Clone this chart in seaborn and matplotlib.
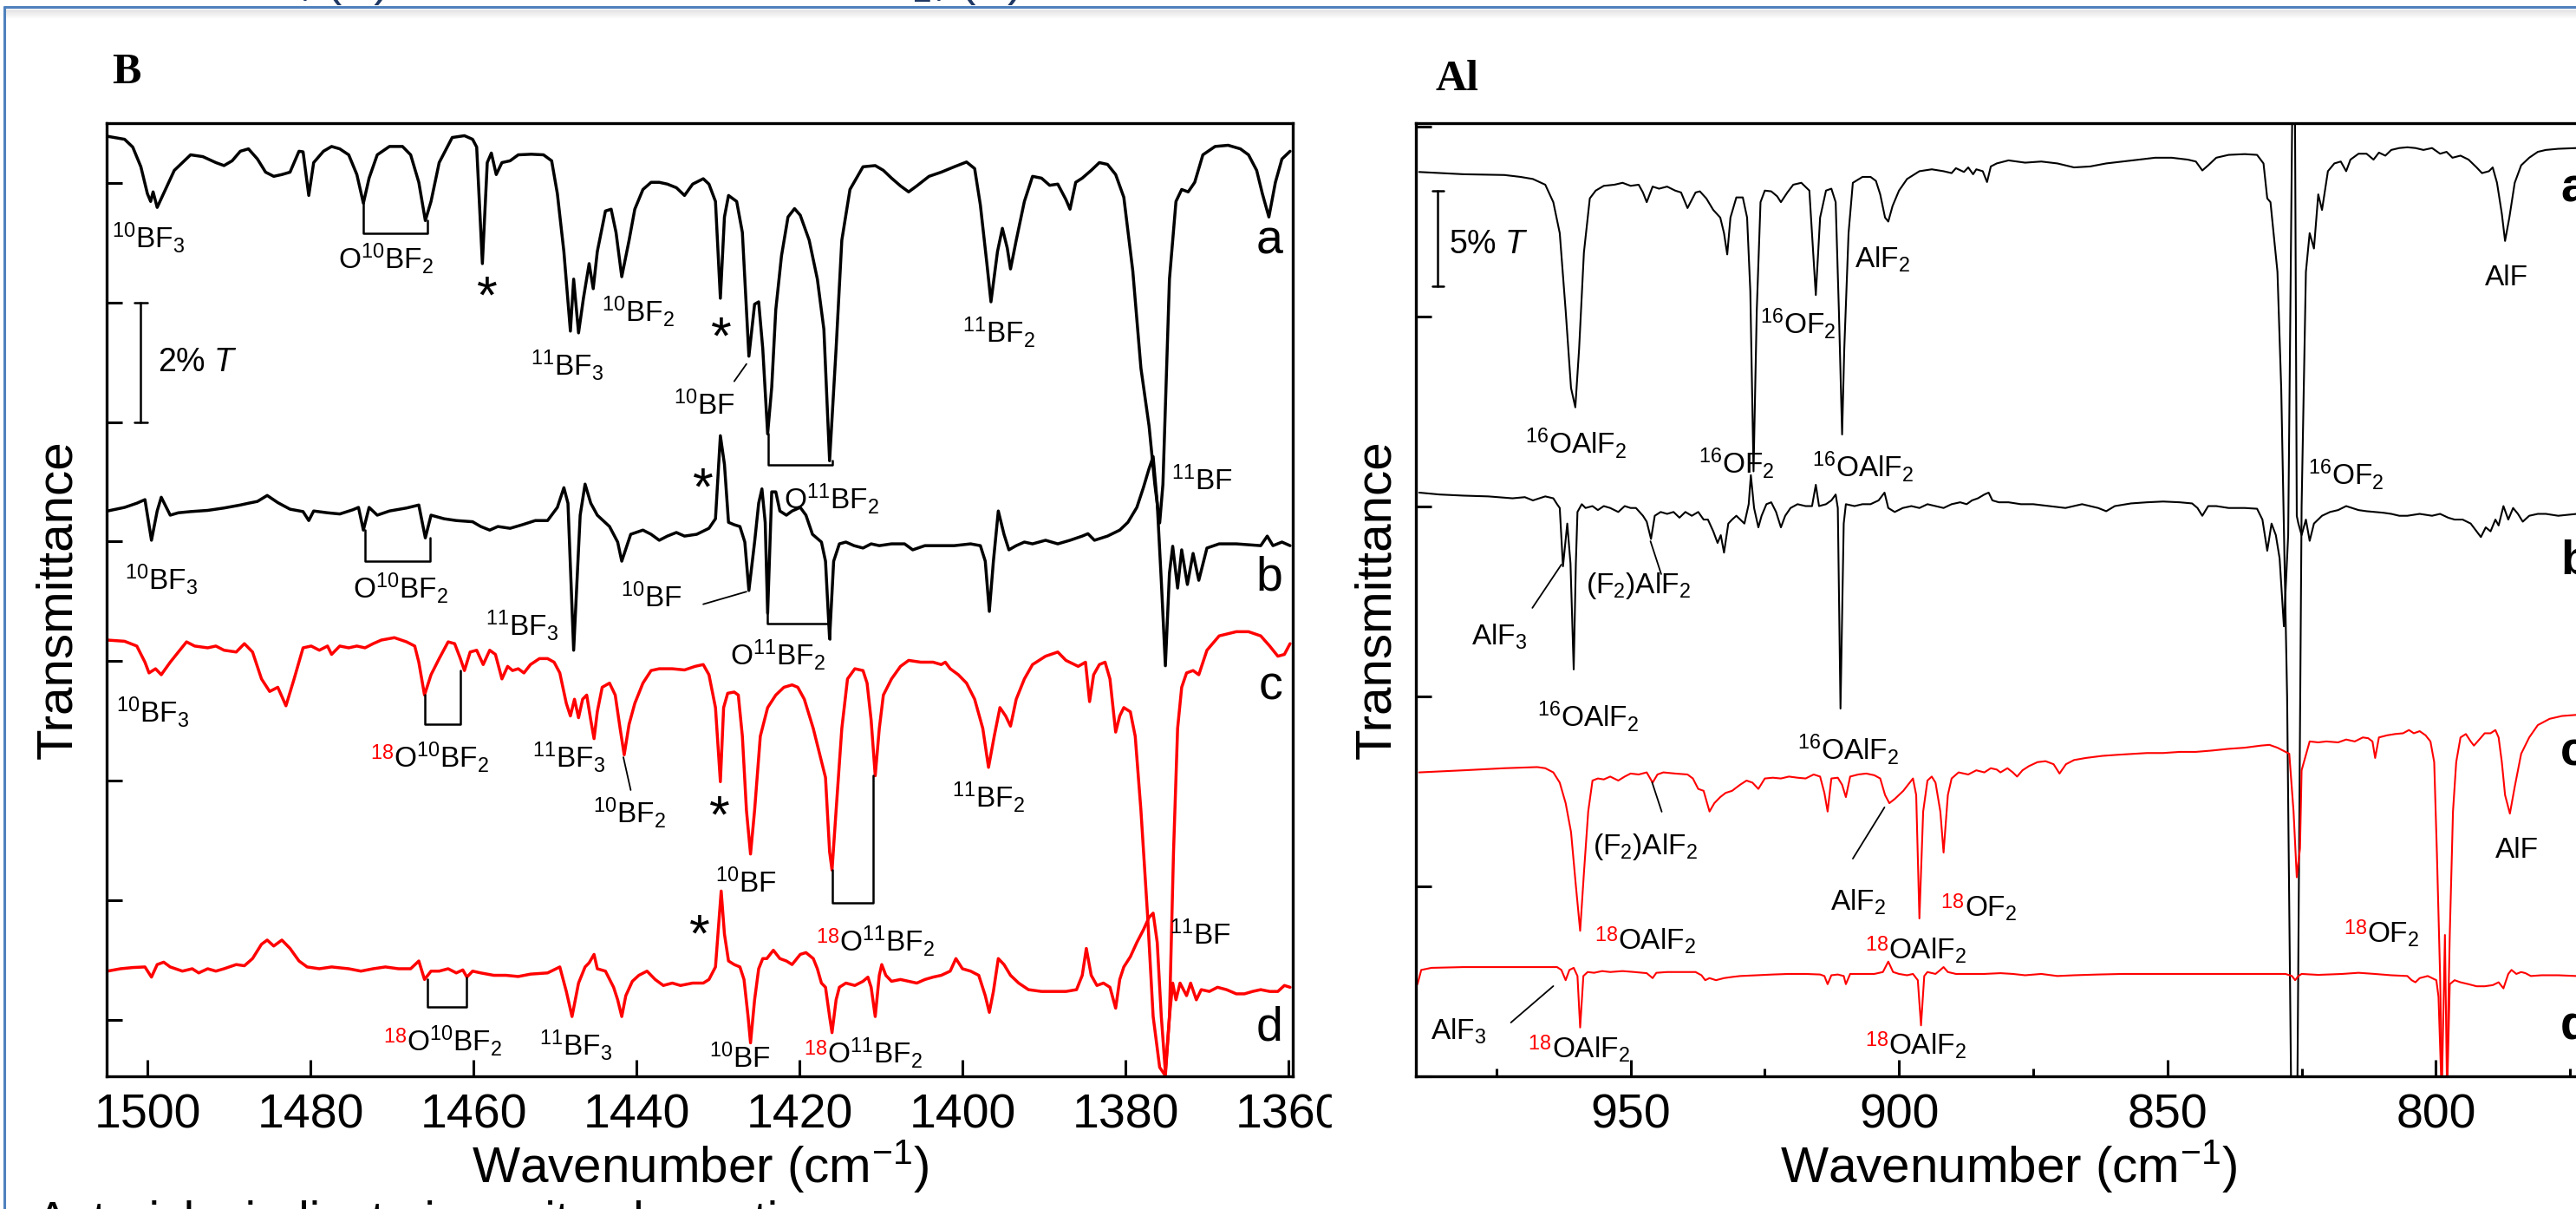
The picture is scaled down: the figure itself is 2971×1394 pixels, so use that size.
import matplotlib
matplotlib.use("Agg")
import matplotlib.pyplot as plt
import seaborn as sns
import pandas as pd
from matplotlib.patches import Rectangle
from matplotlib.lines import Line2D

# ---------------- Panel B (boron) : wavenumber (cm-1) / offset transmittance (% T)
b_wn_a = [1504.9, 1502.8, 1501.8, 1500.8, 1500.0, 1499.6, 1499.3, 1498.8, 1496.7, 1494.7,
          1493.2, 1491.6, 1490.6, 1489.6, 1488.6, 1487.6, 1486.5, 1485.5, 1484.5, 1483.5,
          1482.5, 1481.4, 1480.9, 1480.2, 1479.6, 1478.4, 1477.4, 1476.4, 1475.3, 1474.3,
          1473.5, 1472.8, 1471.8, 1470.3, 1468.7, 1467.7, 1466.7, 1465.9, 1465.2, 1464.2,
          1462.6, 1461.1, 1460.1, 1459.6, 1458.9, 1458.3, 1457.8, 1457.2, 1456.5, 1455.5,
          1454.5, 1452.9, 1451.4, 1450.4, 1449.7, 1448.9, 1448.1, 1447.7, 1447.1, 1446.5,
          1445.8, 1445.3, 1444.8, 1443.8, 1443.1, 1442.5, 1441.8, 1440.9, 1440.2, 1439.2,
          1438.2, 1437.2, 1436.2, 1435.1, 1434.1, 1433.1, 1431.8, 1431.1, 1430.3, 1429.7,
          1429.2, 1428.7, 1427.7, 1427.0, 1426.2, 1425.5, 1425.0, 1424.5, 1423.9, 1423.4,
          1422.9, 1422.2, 1421.4, 1420.6, 1419.9, 1418.8, 1417.8, 1417.0, 1416.3, 1415.5,
          1414.8, 1413.8, 1412.2, 1410.7, 1409.7, 1408.7, 1407.6, 1406.6, 1405.6, 1404.1,
          1402.6, 1401.0, 1399.5, 1398.5, 1397.8, 1397.0, 1396.5, 1395.7, 1395.1, 1394.5,
          1394.1, 1393.4, 1392.4, 1391.4, 1390.3, 1389.3, 1388.3, 1387.3, 1386.8, 1386.1,
          1385.3, 1384.2, 1383.2, 1382.2, 1381.2, 1380.2, 1379.1, 1378.1, 1377.1, 1376.4,
          1375.8, 1375.4, 1374.6, 1373.8, 1373.1, 1372.3, 1371.5, 1370.5, 1369.0, 1367.4,
          1365.9, 1364.9, 1363.9, 1363.2, 1362.4, 1361.6, 1360.8, 1359.8]
b_t_a = [14.78, 14.73, 14.60, 14.27, 13.82, 13.69, 13.85, 13.59, 14.21, 14.47,
         14.44, 14.34, 14.29, 14.37, 14.53, 14.57, 14.40, 14.18, 14.11, 14.14,
         14.18, 14.53, 14.52, 13.79, 14.34, 14.53, 14.61, 14.57, 14.47, 14.14,
         13.66, 14.08, 14.47, 14.61, 14.61, 14.47, 14.01, 13.37, 13.69, 14.34,
         14.76, 14.79, 14.73, 14.60, 12.65, 14.34, 14.50, 14.14, 14.34, 14.37,
         14.47, 14.48, 14.47, 14.37, 13.82, 12.85, 11.52, 12.39, 11.49, 12.07,
         12.65, 12.23, 12.85, 13.53, 13.56, 13.17, 12.43, 13.04, 13.56, 13.89,
         14.01, 14.01, 13.98, 13.92, 13.79, 13.98, 14.07, 13.98, 13.69, 12.07,
         13.43, 13.79, 13.69, 13.17, 11.10, 11.97, 12.01, 11.23, 9.80, 10.58,
         11.88, 12.78, 13.43, 13.57, 13.46, 13.04, 12.39, 11.55, 9.35, 11.23,
         13.04, 13.89, 14.27, 14.29, 14.21, 14.08, 13.95, 13.85, 13.95, 14.11,
         14.18, 14.27, 14.35, 14.24, 13.63, 12.65, 12.01, 12.85, 13.24, 12.91,
         12.56, 13.04, 13.69, 14.11, 14.08, 13.96, 13.98, 13.72, 13.56, 14.01,
         14.08, 14.21, 14.34, 14.31, 14.14, 13.76, 12.53, 10.90, 9.93, 8.96,
         8.31, 8.96, 12.39, 13.69, 13.89, 13.85, 14.01, 14.47, 14.61, 14.63,
         14.57, 14.47, 14.21, 13.82, 13.43, 14.01, 14.40, 14.53]

b_wn_b = [1504.9, 1502.8, 1501.3, 1500.3, 1499.5, 1498.8, 1498.3, 1497.2, 1496.2, 1494.7,
          1492.6, 1490.6, 1488.6, 1487.6, 1486.5, 1485.3, 1484.0, 1482.5, 1480.9, 1480.2,
          1479.6, 1477.9, 1476.4, 1474.8, 1474.1, 1473.5, 1472.8, 1471.8, 1470.3, 1468.2,
          1466.7, 1465.9, 1465.2, 1463.6, 1462.1, 1460.1, 1459.1, 1458.0, 1457.0, 1455.5,
          1454.0, 1452.4, 1450.9, 1449.7, 1448.9, 1448.4, 1447.7, 1446.9, 1446.3, 1445.6,
          1444.8, 1443.3, 1442.3, 1441.8, 1440.7, 1439.2, 1438.2, 1437.2, 1436.2, 1435.1,
          1434.1, 1432.6, 1431.1, 1430.3, 1429.9, 1429.7, 1429.2, 1428.7, 1428.0, 1427.3,
          1426.7, 1426.2, 1425.5, 1425.0, 1424.6, 1424.2, 1423.9, 1423.4, 1422.9, 1422.4,
          1421.6, 1420.9, 1419.9, 1419.2, 1418.4, 1417.3, 1416.8, 1416.3, 1415.8, 1415.1,
          1414.3, 1413.3, 1412.2, 1411.2, 1410.2, 1408.7, 1407.1, 1406.1, 1404.6, 1403.1,
          1401.0, 1399.0, 1397.8, 1397.2, 1396.7, 1396.2, 1395.6, 1394.9, 1394.3, 1393.4,
          1392.4, 1391.4, 1389.8, 1388.3, 1386.8, 1385.3, 1384.6, 1383.8, 1382.2, 1380.7,
          1379.7, 1378.6, 1377.8, 1377.1, 1376.6, 1376.1, 1375.6, 1375.1, 1374.6, 1374.2,
          1373.6, 1373.1, 1372.4, 1371.7, 1371.0, 1370.0, 1368.5, 1366.4, 1364.4, 1363.4,
          1362.6, 1361.9, 1360.8, 1359.8]
b_t_b = [8.51, 8.57, 8.64, 8.70, 8.02, 8.51, 8.74, 8.44, 8.48, 8.50,
         8.52, 8.56, 8.61, 8.64, 8.67, 8.77, 8.65, 8.54, 8.50, 8.35,
         8.51, 8.48, 8.46, 8.53, 8.57, 8.19, 8.57, 8.44, 8.51, 8.56,
         8.61, 8.06, 8.44, 8.38, 8.35, 8.33, 8.25, 8.19, 8.25, 8.22,
         8.28, 8.35, 8.35, 8.57, 8.90, 8.64, 6.18, 8.44, 8.96, 8.64,
         8.44, 8.25, 7.99, 7.67, 8.12, 8.19, 8.12, 8.02, 8.09, 8.15,
         8.09, 8.12, 8.22, 8.38, 9.29, 9.77, 9.29, 8.32, 8.28, 8.25,
         7.99, 7.18, 7.99, 8.64, 8.88, 8.32, 6.80, 8.83, 8.83, 8.51,
         8.44, 8.51, 8.57, 8.44, 8.12, 7.99, 7.67, 6.37, 7.67, 7.96,
         7.99, 7.93, 7.89, 7.96, 7.93, 7.96, 7.96, 7.86, 7.93, 7.93,
         7.93, 7.96, 7.93, 7.67, 6.83, 7.67, 8.51, 8.12, 7.86, 7.93,
         7.99, 7.96, 8.02, 7.96, 8.02, 8.09, 8.13, 8.02, 8.09, 8.19,
         8.32, 8.57, 8.90, 9.22, 9.42, 8.64, 7.34, 5.92, 7.47, 7.92,
         7.22, 7.86, 7.28, 7.80, 7.35, 7.89, 7.96, 7.96, 7.94, 7.93,
         8.09, 7.93, 7.99, 7.93]

b_wn_c = [1504.9, 1502.8, 1501.3, 1500.3, 1499.8, 1499.0, 1498.3, 1497.2, 1496.2, 1495.2,
          1494.2, 1492.6, 1491.6, 1490.6, 1489.1, 1488.1, 1487.1, 1486.0, 1485.0, 1484.0,
          1483.0, 1482.0, 1480.9, 1479.9, 1478.9, 1477.9, 1477.4, 1476.4, 1475.3, 1474.3,
          1473.3, 1472.3, 1471.3, 1469.7, 1468.2, 1467.2, 1466.7, 1466.0, 1465.2, 1464.2,
          1463.1, 1462.3, 1461.6, 1461.1, 1460.4, 1459.6, 1458.8, 1458.0, 1457.3, 1456.5,
          1455.8, 1455.2, 1454.5, 1453.8, 1453.0, 1451.9, 1450.9, 1450.1, 1449.4, 1448.6,
          1448.1, 1447.6, 1447.1, 1446.6, 1446.1, 1445.6, 1445.2, 1444.8, 1444.2, 1443.3,
          1442.6, 1442.0, 1441.5, 1440.9, 1440.2, 1439.2, 1438.2, 1437.2, 1435.6, 1434.1,
          1432.8, 1431.8, 1431.1, 1430.3, 1429.7, 1429.3, 1428.8, 1428.0, 1427.5, 1427.0,
          1426.5, 1426.0, 1425.5, 1424.8, 1423.9, 1422.9, 1421.9, 1420.9, 1420.2, 1419.4,
          1418.3, 1417.3, 1416.8, 1416.3, 1416.0, 1415.5, 1414.8, 1414.1, 1413.2, 1412.2,
          1411.7, 1411.2, 1410.7, 1410.2, 1409.7, 1408.7, 1407.6, 1406.6, 1405.1, 1403.6,
          1402.6, 1402.1, 1401.5, 1400.5, 1399.5, 1398.5, 1397.5, 1396.8, 1396.1, 1395.4,
          1394.7, 1394.1, 1393.4, 1392.4, 1391.4, 1389.8, 1388.3, 1387.3, 1385.8, 1384.9,
          1384.4, 1383.9, 1383.2, 1382.5, 1381.9, 1381.2, 1380.7, 1380.2, 1379.4, 1378.8,
          1378.1, 1377.3, 1376.6, 1375.8, 1375.1, 1374.6, 1374.1, 1373.6, 1373.1, 1372.5,
          1371.7, 1371.0, 1370.0, 1368.5, 1366.4, 1364.9, 1363.4, 1362.3, 1361.3, 1360.5,
          1359.8]
b_t_c = [6.35, 6.33, 6.25, 5.98, 5.80, 5.87, 5.77, 5.98, 6.15, 6.32,
         6.25, 6.22, 6.25, 6.18, 6.15, 6.29, 6.15, 5.70, 5.49, 5.56,
         5.25, 5.70, 6.22, 6.25, 6.18, 6.25, 6.11, 6.25, 6.22, 6.25,
         6.22, 6.29, 6.35, 6.39, 6.32, 6.25, 5.98, 5.43, 5.77, 6.04,
         6.32, 6.29, 6.04, 5.84, 6.15, 6.18, 5.94, 6.18, 6.11, 5.70,
         5.91, 5.84, 5.87, 5.80, 5.94, 6.04, 6.04, 5.98, 5.80, 5.29,
         5.08, 5.36, 5.05, 5.36, 5.43, 5.01, 4.70, 5.15, 5.56, 5.63,
         5.43, 4.87, 4.43, 4.94, 5.29, 5.63, 5.84, 5.87, 5.87, 5.85,
         5.91, 5.94, 5.77, 5.22, 3.98, 5.22, 5.46, 5.48, 5.43, 4.74,
         3.50, 2.77, 3.50, 4.74, 5.22, 5.43, 5.56, 5.60, 5.56, 5.36,
         4.87, 4.32, 4.05, 2.81, 2.50, 3.50, 4.87, 5.70, 5.87, 5.84,
         5.63, 5.01, 4.08, 4.87, 5.43, 5.70, 5.91, 6.01, 5.98, 5.98,
         5.94, 5.98, 5.87, 5.77, 5.63, 5.36, 4.87, 4.22, 4.74, 5.22,
         5.08, 4.91, 5.36, 5.70, 5.94, 6.08, 6.15, 6.01, 5.91, 5.98,
         5.32, 5.77, 5.94, 5.98, 5.70, 4.81, 5.08, 5.22, 5.15, 4.74,
         3.50, 1.78, 0.05, -0.80, -0.94, 0.05, 2.81, 4.87, 5.56, 5.80,
         5.84, 5.77, 6.18, 6.42, 6.49, 6.49, 6.42, 6.25, 6.08, 6.11,
         6.29]

b_wn_d = [1504.9, 1503.3, 1501.8, 1500.3, 1499.5, 1498.8, 1498.0, 1497.2, 1495.7, 1494.5,
          1493.7, 1492.6, 1491.6, 1490.6, 1489.1, 1488.1, 1487.1, 1486.0, 1485.3, 1484.5,
          1483.5, 1482.5, 1481.4, 1480.4, 1478.9, 1477.4, 1475.3, 1473.8, 1472.3, 1470.8,
          1469.2, 1467.7, 1466.7, 1466.0, 1465.2, 1464.2, 1463.1, 1462.1, 1461.3, 1460.8,
          1460.1, 1459.1, 1457.5, 1456.0, 1454.5, 1453.0, 1450.9, 1449.4, 1448.6, 1447.9,
          1447.1, 1446.3, 1445.8, 1445.2, 1444.8, 1443.8, 1442.8, 1442.3, 1441.8, 1441.3,
          1440.5, 1439.7, 1438.7, 1437.7, 1436.7, 1435.6, 1434.6, 1433.1, 1431.8, 1431.1,
          1430.3, 1430.0, 1429.6, 1429.2, 1428.7, 1428.0, 1427.3, 1426.8, 1426.3, 1426.0,
          1425.5, 1425.0, 1424.5, 1424.0, 1423.2, 1422.4, 1421.6, 1420.9, 1419.9, 1419.2,
          1418.3, 1417.8, 1417.3, 1416.8, 1416.3, 1416.0, 1415.5, 1415.1, 1414.3, 1413.2,
          1412.2, 1411.6, 1411.2, 1410.7, 1410.2, 1409.9, 1409.4, 1408.7, 1407.6, 1406.6,
          1405.6, 1404.6, 1403.6, 1402.6, 1401.5, 1400.8, 1400.0, 1399.0, 1398.0, 1397.2,
          1396.7, 1396.2, 1395.6, 1394.9, 1394.1, 1393.1, 1391.9, 1390.3, 1388.8, 1387.3,
          1386.0, 1385.3, 1384.8, 1384.2, 1383.5, 1382.7, 1381.9, 1381.2, 1380.7, 1380.2,
          1379.4, 1378.6, 1377.8, 1377.1, 1376.6, 1376.1, 1375.6, 1375.1, 1374.6, 1374.2,
          1373.8, 1373.3, 1372.5, 1372.0, 1371.3, 1370.7, 1369.7, 1368.7, 1367.6, 1366.4,
          1365.4, 1364.4, 1363.4, 1362.3, 1361.3, 1360.5, 1359.8]
b_t_d = [0.81, 0.85, 0.87, 0.88, 0.71, 0.92, 0.96, 0.88, 0.81, 0.85,
         0.78, 0.85, 0.81, 0.85, 0.92, 0.90, 1.02, 1.26, 1.33, 1.23,
         1.33, 1.19, 0.98, 0.88, 0.85, 0.88, 0.85, 0.81, 0.85, 0.88,
         0.85, 0.85, 0.98, 0.67, 0.81, 0.81, 0.85, 0.78, 0.83, 0.71,
         0.81, 0.78, 0.74, 0.74, 0.72, 0.76, 0.78, 0.88, 0.47, 0.05,
         0.61, 0.88, 0.95, 1.09, 0.85, 0.81, 0.54, 0.33, 0.05, 0.40,
         0.64, 0.74, 0.81, 0.67, 0.57, 0.61, 0.57, 0.61, 0.61, 0.67,
         0.88, 1.43, 2.15, 1.43, 0.98, 0.92, 0.88, 0.67, 0.05, -0.39,
         0.33, 0.85, 1.02, 1.02, 1.16, 1.02, 0.98, 0.92, 1.09, 1.12,
         1.02, 0.85, 0.61, 0.54, 0.05, -0.22, 0.33, 0.54, 0.61, 0.57,
         0.64, 0.71, 0.54, 0.05, 0.74, 0.92, 0.74, 0.64, 0.67, 0.64,
         0.61, 0.67, 0.71, 0.74, 0.81, 1.02, 0.85, 0.81, 0.74, 0.40,
         0.12, 0.47, 1.02, 0.92, 0.74, 0.61, 0.50, 0.47, 0.47, 0.47,
         0.50, 0.74, 1.19, 0.74, 0.57, 0.61, 0.54, 0.19, 0.67, 0.88,
         1.05, 1.29, 1.50, 1.71, 1.78, 1.29, 0.05, -0.88, 0.05, 0.61,
         0.33, 0.61, 0.40, 0.61, 0.33, 0.50, 0.47, 0.54, 0.50, 0.43,
         0.43, 0.47, 0.50, 0.47, 0.47, 0.57, 0.54]

# ---------------- Panel Al : wavenumber (cm-1) / offset transmittance (% T)
al_wn_a = [989.4, 981.1, 973.5, 970.5, 968.2, 965.9, 964.4, 963.2, 962.1, 961.1,
           960.3, 959.6, 958.7, 957.6, 956.5, 955.0, 953.0, 951.5, 950.0, 948.5,
           947.7, 947.0, 945.9, 944.7, 943.2, 941.7, 940.6, 939.4, 937.9, 937.1,
           935.9, 934.6, 933.3, 932.6, 932.0, 931.4, 930.3, 929.1, 928.3, 927.7,
           927.1, 926.5, 925.8, 925.0, 923.8, 922.7, 922.0, 920.8, 919.7, 918.2,
           916.7, 915.5, 914.7, 913.6, 912.6, 911.8, 911.2, 910.6, 910.2, 909.4,
           908.6, 906.8, 905.3, 904.3, 903.5, 902.6, 902.0, 901.2, 900.0, 898.5,
           896.2, 893.9, 891.7, 890.2, 889.4, 887.9, 887.1, 886.2, 885.6, 884.4,
           883.6, 882.9, 881.8, 879.6, 876.5, 873.5, 870.5, 867.4, 864.4, 861.4,
           858.3, 855.3, 852.3, 849.2, 846.2, 844.7, 843.5, 842.4, 840.9, 838.6,
           835.6, 833.3, 832.1, 831.4, 830.8, 829.5, 828.8, 827.7, 826.8, 825.9,
           825.0, 824.2, 823.5, 822.7, 821.9, 821.2, 820.1, 818.9, 817.7, 816.7,
           815.9, 814.4, 812.9, 811.6, 810.6, 809.4, 808.3, 806.8, 805.3, 803.8,
           802.3, 800.7, 799.2, 798.0, 796.9, 795.4, 793.9, 792.4, 791.4, 790.1,
           789.4, 788.6, 787.7, 787.1, 786.3, 785.3, 784.1, 782.6, 781.0, 779.5,
           777.2, 773.8, 768.9]
al_t_a = [47.61, 47.49, 47.45, 47.35, 47.24, 46.94, 46.02, 44.39, 40.31, 36.24,
          35.22, 38.27, 43.37, 46.22, 46.63, 46.88, 46.94, 47.04, 46.88, 46.94,
          46.53, 46.02, 46.84, 46.73, 46.84, 46.63, 46.53, 45.71, 46.53, 46.59,
          46.22, 45.61, 45.21, 44.39, 43.27, 45.21, 46.27, 46.27, 45.21, 41.33,
          31.85, 40.31, 46.02, 46.63, 46.59, 46.33, 46.02, 46.53, 46.94, 47.04,
          46.63, 41.13, 45.21, 46.63, 46.73, 46.02, 40.31, 33.79, 38.27, 44.39,
          47.04, 47.35, 47.35, 47.14, 46.43, 45.21, 45.00, 45.82, 46.63, 47.24,
          47.65, 47.75, 47.65, 47.55, 47.81, 47.61, 47.85, 47.49, 47.75, 47.65,
          47.08, 47.90, 48.06, 48.22, 48.10, 48.16, 48.06, 47.85, 47.90, 48.06,
          48.16, 48.26, 48.36, 48.36, 48.26, 48.16, 47.69, 47.96, 48.36, 48.51,
          48.55, 48.51, 48.06, 46.22, 46.02, 42.35, 36.24, 20.0, -5.0, -5.0,
          30.0, 42.35, 44.39, 43.58, 46.43, 45.61, 47.65, 48.06, 48.16, 47.65,
          48.26, 48.57, 48.57, 48.26, 48.63, 48.47, 48.77, 48.87, 48.91, 48.87,
          48.77, 48.87, 48.57, 48.67, 48.36, 48.47, 48.26, 47.85, 47.55, 47.65,
          47.85, 47.04, 45.41, 43.98, 45.21, 47.04, 47.96, 48.36, 48.67, 48.77,
          48.83, 48.87, 48.87]

al_wn_b = [989.4, 985.6, 981.1, 976.5, 972.0, 969.7, 968.2, 965.9, 964.4, 963.7,
           963.2, 962.6, 961.8, 961.2, 960.6, 960.2, 959.9, 959.1, 958.4, 957.1,
           956.1, 955.0, 953.8, 952.3, 951.1, 950.0, 949.0, 947.7, 947.0, 946.2,
           945.5, 944.4, 943.2, 942.0, 940.9, 939.8, 938.6, 937.4, 936.4, 935.6,
           934.6, 933.8, 933.2, 932.6, 931.8, 931.1, 930.3, 928.8, 928.0, 927.6,
           927.0, 926.2, 925.6, 924.7, 923.8, 922.9, 922.0, 921.2, 920.2, 918.9,
           917.4, 916.2, 915.5, 914.9, 913.6, 912.6, 911.8, 911.4, 910.9, 910.3,
           909.9, 908.3, 906.8, 905.3, 903.8, 902.7, 902.0, 900.8, 899.3, 897.7,
           896.2, 894.7, 893.2, 891.7, 890.2, 888.6, 887.4, 886.4, 885.3, 884.1,
           883.3, 882.6, 881.4, 879.6, 877.3, 875.0, 872.0, 869.0, 865.9, 862.9,
           861.4, 859.8, 856.8, 853.8, 850.8, 847.7, 845.4, 844.4, 843.5, 842.4,
           840.9, 838.6, 835.6, 833.3, 832.3, 831.4, 830.6, 829.8, 829.1, 828.3,
           827.5, 826.6, 826.3, 825.9, 825.6, 825.0, 824.2, 823.5, 822.7, 821.2,
           819.7, 818.2, 816.7, 815.6, 814.4, 812.9, 811.4, 809.8, 808.3, 806.8,
           805.3, 803.0, 800.7, 799.2, 797.7, 796.5, 795.0, 793.5, 792.4, 791.6,
           790.7, 789.8, 788.9, 788.3, 787.4, 786.5, 785.6, 784.7, 783.8, 782.6,
           781.0, 779.5, 777.2, 773.8, 768.9]
al_t_b = [30.73, 30.63, 30.57, 30.53, 30.43, 30.49, 30.32, 30.53, 30.43, 30.12,
          29.92, 26.85, 29.10, 27.0, 21.42, 27.0, 29.71, 30.12, 29.92, 30.02,
          29.81, 30.02, 29.92, 29.71, 30.02, 29.92, 29.92, 29.51, 29.20, 28.29,
          29.51, 29.71, 29.61, 29.71, 29.41, 29.71, 29.51, 29.71, 29.31, 29.31,
          28.69, 28.08, 28.49, 27.57, 29.10, 29.31, 29.51, 29.10, 30.12, 31.65,
          29.92, 28.90, 29.51, 30.12, 30.22, 29.71, 28.90, 29.51, 29.92, 30.12,
          30.02, 30.02, 31.14, 30.02, 30.12, 30.32, 30.63, 29.92, 19.36, 29.10,
          30.12, 30.02, 30.12, 30.12, 30.32, 30.73, 29.92, 29.71, 29.92, 30.02,
          29.92, 30.12, 30.02, 29.92, 30.12, 30.22, 30.12, 30.32, 30.43, 30.63,
          30.73, 30.32, 30.22, 30.22, 30.12, 30.12, 30.02, 29.92, 30.12, 29.92,
          29.75, 30.02, 30.16, 30.22, 30.26, 30.22, 30.16, 29.92, 29.51, 30.02,
          30.02, 29.92, 29.92, 29.88, 29.31, 27.67, 29.10, 28.49, 27.27, 23.69,
          28.5, 55.0, 55.0, 29.5, 29.10, 28.49, 29.31, 28.19, 29.10, 29.51,
          29.71, 29.81, 30.02, 29.92, 29.81, 29.75, 29.71, 29.67, 29.61, 29.51,
          29.51, 29.61, 29.51, 29.61, 29.41, 29.31, 29.31, 29.10, 28.69, 28.39,
          28.90, 28.69, 29.31, 29.00, 30.02, 29.31, 29.92, 29.61, 29.20, 29.51,
          29.61, 29.61, 29.51, 29.61, 29.61]

al_wn_c = [989.4, 981.1, 973.5, 967.4, 965.9, 964.4, 963.2, 962.1, 961.1, 960.2,
           959.4, 958.7, 957.9, 957.1, 956.1, 955.0, 953.8, 952.3, 951.1, 950.0,
           948.5, 947.0, 945.9, 945.0, 943.9, 941.7, 939.4, 938.4, 937.4, 936.4,
           935.3, 934.4, 933.3, 932.3, 931.1, 929.6, 928.4, 927.3, 926.2, 925.0,
           923.5, 922.0, 920.5, 918.9, 917.4, 915.9, 914.7, 913.9, 913.3, 912.6,
           911.4, 910.6, 909.9, 909.1, 907.6, 906.1, 904.6, 903.5, 902.6, 901.8,
           900.8, 899.2, 898.0, 897.4, 896.8, 896.2, 895.5, 894.7, 893.9, 893.2,
           892.3, 891.7, 890.9, 890.2, 888.9, 887.1, 885.6, 884.1, 882.9, 881.8,
           881.1, 879.8, 878.8, 878.0, 877.0, 875.8, 874.2, 872.7, 871.2, 870.1,
           868.9, 867.4, 865.2, 862.1, 859.1, 856.0, 853.8, 850.8, 847.7, 844.7,
           841.7, 838.6, 835.6, 832.6, 831.0, 829.5, 828.0, 827.3, 826.5, 825.9,
           825.3, 825.0, 823.5, 821.9, 820.4, 818.2, 816.7, 815.1, 813.6, 812.6,
           811.8, 811.3, 810.6, 809.1, 807.6, 806.1, 805.0, 804.1, 803.0, 801.9,
           801.0, 800.3, 799.8, 799.2, 798.8, 798.0, 797.4, 796.8, 796.2, 795.4,
           794.4, 793.5, 792.9, 791.9, 790.9, 789.8, 788.9, 788.3, 787.7, 787.1,
           786.2, 785.3, 784.1, 782.6, 781.0, 778.8, 776.5, 773.8, 768.9]
al_t_c = [16.00, 16.11, 16.22, 16.28, 16.22, 16.00, 15.46, 14.38, 12.86, 10.04,
          7.66, 10.69, 13.94, 15.57, 15.68, 15.63, 15.78, 15.57, 15.78, 15.94,
          15.89, 16.00, 15.46, 15.89, 16.00, 15.94, 15.89, 15.68, 15.13, 15.03,
          13.94, 14.38, 14.70, 14.92, 15.03, 15.35, 15.57, 15.46, 15.13, 15.68,
          15.72, 15.68, 15.78, 15.72, 15.68, 15.89, 15.78, 14.92, 13.94, 15.68,
          15.72, 15.35, 14.70, 15.78, 15.89, 15.94, 15.85, 15.68, 14.81, 14.38,
          14.60, 15.03, 15.46, 15.68, 14.81, 8.31, 13.94, 15.57, 15.78, 15.46,
          13.94, 11.78, 14.81, 15.68, 16.00, 15.89, 16.11, 16.00, 16.22, 16.15,
          16.00, 16.22, 16.00, 15.78, 16.11, 16.33, 16.54, 16.59, 16.43, 15.94,
          16.43, 16.65, 16.76, 16.87, 16.93, 16.98, 17.02, 17.02, 17.08, 17.08,
          17.15, 17.24, 17.30, 17.41, 17.45, 17.30, 17.08, 16.98, 13.94, 10.48,
          12.0, 16.11, 17.63, 17.58, 17.63, 17.58, 17.73, 17.63, 17.84, 17.80,
          17.63, 16.76, 17.84, 17.95, 18.02, 18.06, 18.23, 18.06, 18.17, 17.95,
          17.63, 16.54, 11.78, 5.28, -1.0, -1.0, 7.44, 13.94, 16.54, 17.84,
          18.02, 17.63, 17.41, 17.73, 18.06, 18.06, 18.23, 17.84, 16.54, 14.81,
          13.83, 15.24, 16.98, 17.84, 18.49, 18.82, 18.97, 19.03, 19.05]

al_wn_d = [989.7, 989.0, 987.1, 981.1, 973.5, 965.9, 963.7, 962.9, 962.1, 961.4,
           960.6, 959.9, 959.4, 958.8, 958.0, 956.8, 955.3, 953.8, 951.5, 949.3,
           947.0, 945.9, 945.2, 943.2, 940.2, 937.9, 936.8, 936.1, 935.3, 934.1,
           932.6, 931.1, 929.6, 926.5, 923.5, 920.5, 917.4, 914.7, 913.9, 913.3,
           912.6, 911.4, 910.3, 909.9, 909.1, 906.8, 904.6, 903.0, 902.0, 901.1,
           900.0, 898.5, 897.4, 896.5, 895.9, 895.3, 894.7, 893.2, 892.3, 891.7,
           890.9, 889.4, 887.1, 884.1, 881.1, 878.8, 876.5, 873.5, 870.5, 867.4,
           862.9, 858.3, 853.8, 849.2, 844.7, 840.1, 835.6, 831.0, 828.0, 826.8,
           826.2, 825.6, 825.0, 821.9, 817.4, 814.4, 811.4, 808.3, 805.3, 804.5,
           803.8, 803.0, 801.5, 799.9, 799.5, 798.9, 798.3, 797.9, 797.4, 796.5,
           795.4, 793.9, 792.4, 790.9, 789.4, 788.3, 787.4, 786.5, 785.9, 785.0,
           784.1, 783.3, 782.3, 780.3, 777.2, 773.8, 768.9]
al_t_d = [4.85, 5.60, 5.71, 5.75, 5.75, 5.75, 5.75, 5.60, 5.06, 5.60,
          5.71, 5.28, 2.57, 5.28, 5.49, 5.45, 5.54, 5.49, 5.54, 5.49,
          5.43, 5.17, 5.45, 5.49, 5.49, 5.49, 5.32, 5.06, 5.17, 5.06,
          5.17, 5.23, 5.28, 5.32, 5.36, 5.39, 5.39, 5.36, 5.28, 4.85,
          5.32, 5.36, 5.28, 4.85, 5.39, 5.39, 5.39, 5.49, 6.04, 5.49,
          5.39, 5.32, 5.39, 5.06, 2.68, 5.28, 5.49, 5.39, 5.60, 5.75,
          5.49, 5.39, 5.39, 5.39, 5.43, 5.39, 5.32, 5.39, 5.28, 5.32,
          5.36, 5.39, 5.39, 5.39, 5.39, 5.39, 5.39, 5.39, 5.39, 5.28,
          5.06, 5.28, 5.39, 5.34, 5.39, 5.45, 5.39, 5.32, 5.28, 5.06,
          4.95, 5.17, 5.28, 5.06, 4.19, -1.0, 7.44, -1.0, 4.85, 5.06,
          4.95, 4.85, 4.74, 4.74, 4.80, 4.95, 4.63, 5.39, 5.60, 5.39,
          5.49, 5.43, 5.28, 5.32, 5.32, 5.28, 5.28]

b_ticks = [1500, 1480, 1460, 1440, 1420, 1400, 1380, 1360]
al_ticks = [950, 900, 850, 800]
al_minor = [975, 925, 875, 825, 775]

# ---------------- style
sns.set_theme(style="ticks")
plt.rcParams["font.family"] = ["Liberation Sans", "DejaVu Sans"]
plt.rcParams["mathtext.fontset"] = "custom"
plt.rcParams["mathtext.rm"] = "Liberation Sans"
plt.rcParams["mathtext.it"] = "Liberation Sans:italic"
plt.rcParams["mathtext.bf"] = "Liberation Sans:bold"
plt.rcParams["mathtext.default"] = "regular"
plt.rcParams["text.color"] = "black"
plt.rcParams["axes.labelcolor"] = "black"

W, H = 2971, 1394
fx = lambda x: x / W
fy = lambda y: 1 - y / H

fig = plt.figure(figsize=(W / 100, H / 100), dpi=100)
fig.patch.set_facecolor("white")
axL = fig.add_axes([fx(123), fy(1241), (1491 - 123) / W, 1099 / H])
axR = fig.add_axes([fx(1633), fy(1241), (3000 - 1633) / W, 1099 / H])


def draw(ax, wn, t, color, lw):
    df = pd.DataFrame({"wn": wn, "T": t})
    sns.lineplot(data=df, x="wn", y="T", ax=ax, color=color, linewidth=lw,
                 sort=False, estimator=None, legend=False)


def label(ax, x, y, s, red=None, size=24):
    ax.text(x, y, s, fontsize=size, ha="left", va="baseline")
    if red:
        ax.text(x, y, red, fontsize=size, color="red", ha="right", va="baseline")


def star(ax, x, y):
    ax.annotate("*", (x, y), xytext=(0, -25), textcoords="offset points",
                ha="center", va="baseline", fontsize=44)


def bracket(ax, x1, x2, ybot, y1, y2):
    ax.plot([x1, x1, x2, x2], [y1, ybot, ybot, y2], color="black", lw=1.8)


def pointer(ax, x1, y1, x2, y2):
    ax.plot([x1, x2], [y1, y2], color="black", lw=1.3)


# traces
draw(axL, b_wn_a, b_t_a, "black", 2.5)
draw(axL, b_wn_b, b_t_b, "black", 2.5)
draw(axL, b_wn_c, b_t_c, "red", 2.5)
draw(axL, b_wn_d, b_t_d, "red", 2.5)
draw(axR, al_wn_a, al_t_a, "black", 1.5)
draw(axR, al_wn_b, al_t_b, "black", 1.5)
draw(axR, al_wn_c, al_t_c, "red", 1.5)
draw(axR, al_wn_d, al_t_d, "red", 1.5)

# axes setup
axL.set_xlim(1505.0, 1359.47)
axL.set_ylim(-0.95, 15.0)
axL.set_xticks(b_ticks)
axL.set_yticks(range(0, 15, 2))
axR.set_xlim(990.0, 769.2)
axR.set_ylim(0, 50.18)
axR.set_xticks(al_ticks)
axR.set_xticks(al_minor, minor=True)
axR.set_yticks(range(0, 51, 10))

for ax in (axL, axR):
    ax.tick_params(axis="x", which="major", direction="in", length=14, width=2.2,
                   labelsize=40, pad=14, bottom=True, top=False, color="black",
                   labelcolor="black")
    ax.tick_params(axis="x", which="minor", direction="in", length=6.5, width=2.2,
                   bottom=True, top=False, color="black")
    ax.tick_params(axis="y", direction="in", length=13, width=2.2, left=True,
                   right=False, labelleft=False, color="black")
    for sp in ax.spines.values():
        sp.set_linewidth(2.4)
        sp.set_color("black")
        sp.set_visible(True)
    ax.set_xlabel("Wavenumber (cm$^{-1}$)", fontsize=42, labelpad=0)
    ax.set_ylabel("Transmittance", fontsize=42)
    ax.set_facecolor("white")
axL.yaxis.set_label_coords(-0.021, 0.5)
axR.yaxis.set_label_coords(-0.013, 0.5)

# ---------------- B annotations
label(axL, 1504.4, 12.91, "$^{10}$BF$_3$")
label(axL, 1476.6, 12.56, "O$^{10}$BF$_2$")
bracket(axL, 1473.5, 1465.6, 13.16, 13.67, 13.38)
star(axL, 1458.3, 12.33)
label(axL, 1453.0, 10.78, "$^{11}$BF$_3$")
label(axL, 1444.3, 11.68, "$^{10}$BF$_2$")
star(axL, 1429.6, 11.65)
label(axL, 1435.4, 10.12, "$^{10}$BF")
pointer(axL, 1428.0, 10.68, 1426.5, 10.97)
bracket(axL, 1423.8, 1416.0, 9.28, 9.80, 9.35)
label(axL, 1421.9, 8.54, "O$^{11}$BF$_2$")
label(axL, 1400.0, 11.33, "$^{11}$BF$_2$")
label(axL, 1374.4, 8.86, "$^{11}$BF")
axL.plot([1500.8, 1500.8], [10, 12], color="black", lw=1.8)
axL.plot([1501.6, 1500.0], [12, 12], color="black", lw=1.8)
axL.plot([1501.6, 1500.0], [10, 10], color="black", lw=1.8)
axL.text(1498.7, 11.0, "2% $\\mathit{T}$", fontsize=27, va="center", ha="left")

star(axL, 1431.8, 9.12)
label(axL, 1502.8, 7.2, "$^{10}$BF$_3$")
label(axL, 1474.8, 7.05, "O$^{10}$BF$_2$")
bracket(axL, 1473.3, 1465.3, 7.67, 8.19, 8.06)
label(axL, 1458.5, 6.42, "$^{11}$BF$_3$")
label(axL, 1441.9, 6.90, "$^{10}$BF")
pointer(axL, 1431.8, 6.95, 1426.5, 7.16)
bracket(axL, 1423.9, 1416.3, 6.63, 6.80, 6.37)
label(axL, 1428.5, 5.94, "O$^{11}$BF$_2$")

label(axL, 1503.8, 4.97, "$^{10}$BF$_3$")
label(axL, 1469.8, 4.22, "O$^{10}$BF$_2$", red="$^{18}$")
bracket(axL, 1466.0, 1461.6, 4.94, 5.43, 5.84)
label(axL, 1452.8, 4.22, "$^{11}$BF$_3$")
label(axL, 1445.3, 3.29, "$^{10}$BF$_2$")
pointer(axL, 1441.6, 4.39, 1440.7, 3.84)
star(axL, 1429.8, 3.64)
label(axL, 1401.3, 3.56, "$^{11}$BF$_2$")
bracket(axL, 1416.0, 1411.0, 1.95, 2.50, 4.08)
label(axL, 1430.3, 2.13, "$^{10}$BF")
star(axL, 1432.3, 1.65)
label(axL, 1415.1, 1.15, "O$^{11}$BF$_2$", red="$^{18}$")
label(axL, 1374.6, 1.26, "$^{11}$BF")
label(axL, 1468.2, -0.53, "O$^{10}$BF$_2$", red="$^{18}$")
bracket(axL, 1465.6, 1460.9, 0.21, 0.67, 0.71)
label(axL, 1451.9, -0.60, "$^{11}$BF$_3$")
label(axL, 1431.1, -0.80, "$^{10}$BF")
label(axL, 1416.6, -0.73, "O$^{11}$BF$_2$", red="$^{18}$")

for txt, yy in zip(["a", "b", "c", "d"], [12.82, 7.18, 5.36, -0.35]):
    axL.text(1360.7, yy, txt, fontsize=40, ha="right", va="baseline")

# ---------------- Al annotations
axR.plot([985.9, 985.9], [41.6, 46.6], color="black", lw=1.8)
axR.plot([987.0, 984.8], [46.6, 46.6], color="black", lw=1.8)
axR.plot([987.0, 984.8], [41.6, 41.6], color="black", lw=1.8)
axR.text(983.8, 43.8, "5% $\\mathit{T}$", fontsize=27, va="center", ha="left")
label(axR, 908.3, 42.56, "AlF$_2$")
label(axR, 925.8, 39.09, "$^{16}$OF$_2$")
label(axR, 790.9, 41.64, "AlF")
label(axR, 969.7, 32.78, "$^{16}$OAlF$_2$")
label(axR, 937.4, 31.74, "$^{16}$OF$_2$")
label(axR, 916.2, 31.55, "$^{16}$OAlF$_2$")
label(axR, 823.8, 31.14, "$^{16}$OF$_2$")
label(axR, 958.4, 25.43, "(F$_2$)AlF$_2$")
pointer(axR, 946.3, 28.17, 944.3, 26.44)
label(axR, 979.6, 22.72, "AlF$_3$")
pointer(axR, 968.3, 24.66, 962.9, 26.94)
label(axR, 967.4, 18.40, "$^{16}$OAlF$_2$")
label(axR, 919.0, 16.67, "$^{16}$OAlF$_2$")
label(axR, 957.1, 11.69, "(F$_2$)AlF$_2$")
pointer(axR, 946.0, 15.48, 944.2, 13.93)
label(axR, 912.8, 8.74, "AlF$_2$")
pointer(axR, 908.6, 11.46, 902.7, 14.16)
label(axR, 887.8, 8.40, "OF$_2$", red="$^{18}$")
label(axR, 788.9, 11.51, "AlF")
label(axR, 952.3, 6.68, "OAlF$_2$", red="$^{18}$")
label(axR, 902.0, 6.16, "OAlF$_2$", red="$^{18}$")
label(axR, 812.8, 7.03, "OF$_2$", red="$^{18}$")
label(axR, 987.2, 1.92, "AlF$_3$")
pointer(axR, 972.3, 2.83, 964.4, 4.75)
label(axR, 964.7, 0.96, "OAlF$_2$", red="$^{18}$")
label(axR, 902.0, 1.16, "OAlF$_2$", red="$^{18}$")

for txt, yy in zip(["a", "b", "c", "d"], [46.03, 26.44, 16.35, 2.0]):
    axR.text(776.8, yy, txt, fontsize=40, fontweight="bold", ha="left", va="baseline")

# panel letters
fig.text(fx(129), fy(96), "B", fontsize=36, fontweight="bold",
         family="Liberation Serif", va="baseline")
fig.text(fx(1655), fy(104), "Al", fontsize=36, fontweight="bold",
         family="Liberation Serif", va="baseline")

# slide frame, cut-off caption lines
navy = "#1f3864"
fig.add_artist(Line2D([fx(5), 1], [fy(8), fy(8)], color="#4f81bd", lw=2.2,
                      transform=fig.transFigure))
fig.add_artist(Line2D([fx(5), fx(5)], [0, fy(8)], color="#4f81bd", lw=2.2,
                      transform=fig.transFigure))
for i in range(10):
    fig.add_artist(Line2D([fx(7), 1], [fy(11 + i), fy(11 + i)], color="0.55",
                          alpha=0.18 * (1 - i / 10), lw=1, transform=fig.transFigure))
fig.text(fx(345), fy(-6), ", (A)", fontsize=40, color=navy, va="baseline")
fig.text(fx(1018), fy(-6), "F$_2$, (B)", fontsize=40, color=navy, va="baseline")
fig.text(fx(42), fy(1424), "Asterisks indicate impurity absorptions.", fontsize=40,
         va="baseline")

# right image covers the tail of the "1360" label
fig.add_artist(Rectangle((fx(1536), fy(1340)), 95 / W, 95 / H, color="white",
                         transform=fig.transFigure, zorder=10))

fig.savefig("out.png", dpi=100)
